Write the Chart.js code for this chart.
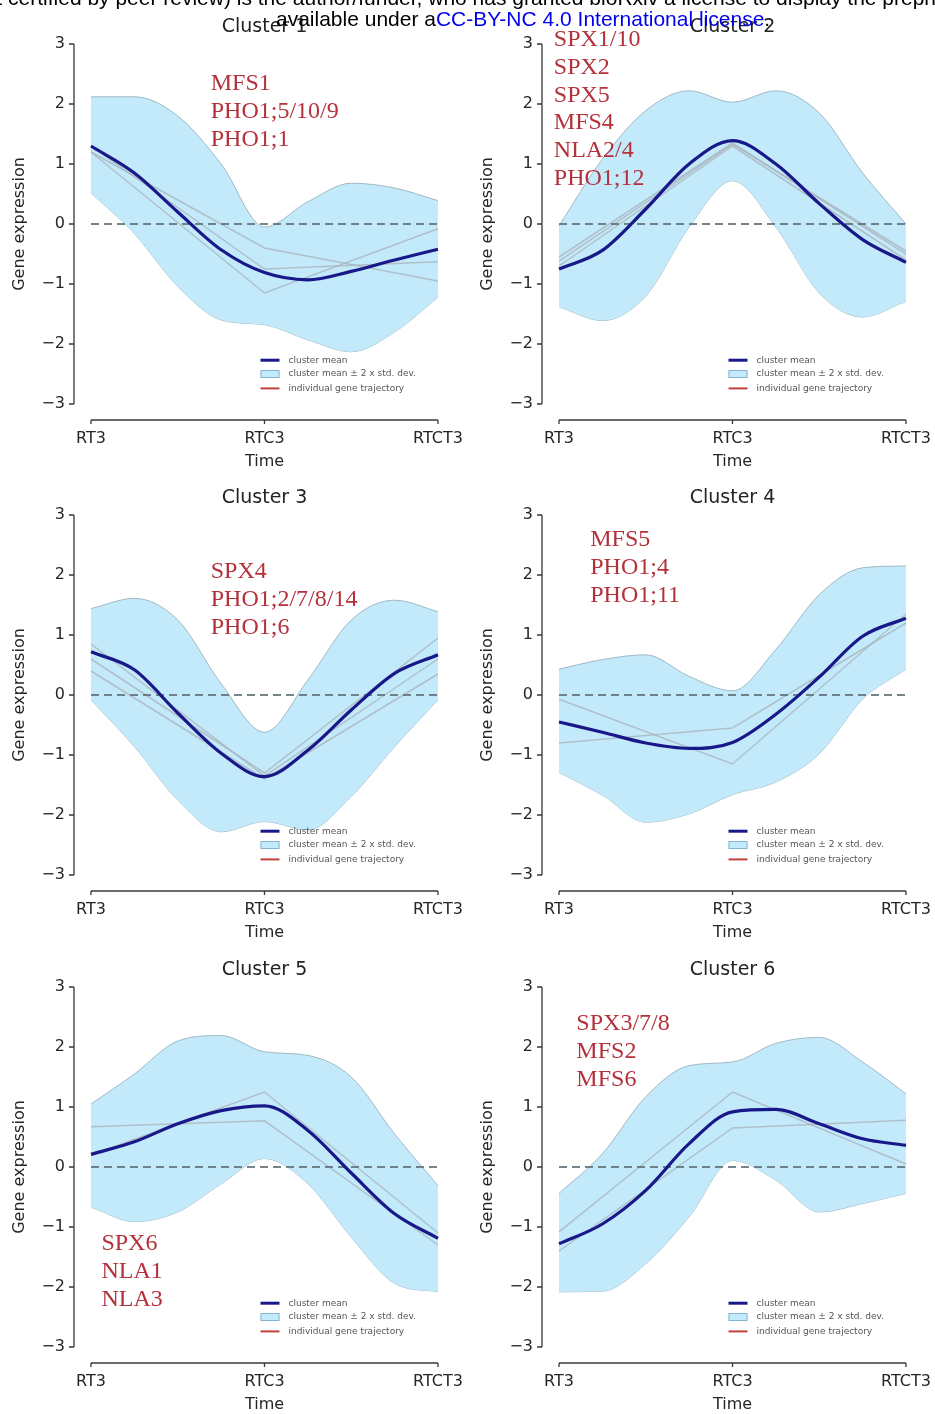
<!DOCTYPE html>
<html>
<head>
<meta charset="utf-8">
<script src="https://cdn.jsdelivr.net/npm/chart.js@4.4.0/dist/chart.umd.min.js"></script>
<style>
    body { margin: 0; background: #fff; width: 935px; height: 1414px; position: relative; overflow: hidden; }
    canvas { position: absolute; }
    .hdr { position: absolute; font-family: 'Liberation Sans', Arial, sans-serif; font-size: 21px; line-height: 21px; white-space: nowrap; z-index: 5; color: #000; }
    .hdr span { color: #0000ee; }
</style>
</head>
<body>
<canvas id="c1" width="467" height="471" style="left:0;top:0"></canvas>
<canvas id="c2" width="467" height="471" style="left:468px;top:0"></canvas>
<canvas id="c3" width="467" height="471" style="left:0;top:471px"></canvas>
<canvas id="c4" width="467" height="471" style="left:468px;top:471px"></canvas>
<canvas id="c5" width="467" height="471" style="left:0;top:943px"></canvas>
<canvas id="c6" width="467" height="471" style="left:468px;top:943px"></canvas>
<div class="hdr" style="left:-27px;top:-13px">not certified by peer review) is the author/funder, who has granted bioRxiv a license to display the preprint in perpetuity. It is made</div>
<div class="hdr" style="left:276px;top:8px">available under a<span>CC-BY-NC 4.0 International license</span>.</div>
<script>
// time points: 0 = RT3, 1 = RTC3, 2 = RTCT3
const timeLabels = ['RT3', 'RTC3', 'RTCT3'];
const timeGrid = [0, 0.25, 0.5, 0.75, 1, 1.25, 1.5, 1.75, 2];
const genePoints = [0, 1, 2];
const yTicks = [-3, -2, -1, 0, 1, 2, 3];
const legendLabels = ['cluster mean', 'cluster mean \u00b1 2 x std. dev.', 'individual gene trajectory'];

// Cluster 1
const mean1 = [1.3, 0.85, 0.2, -0.43, -0.81, -0.93, -0.79, -0.6, -0.42];
const upper1 = [2.12, 2.12, 1.8, 1.0, -0.05, 0.37, 0.68, 0.6, 0.39];
const lower1 = [0.52, -0.16, -1.04, -1.6, -1.68, -1.93, -2.13, -1.8, -1.22];
const genes1 = [[1.2, -0.4, -0.95], [1.2, -1.15, -0.08], [1.3, -0.75, -0.63]];
const notes1 = ['MFS1', 'PHO1;5/10/9', 'PHO1;1'];

// Cluster 2
const mean2 = [-0.75, -0.44, 0.25, 1.0, 1.39, 1.0, 0.34, -0.26, -0.64];
const upper2 = [-0.03, 1.08, 1.89, 2.22, 2.03, 2.22, 1.85, 0.85, 0.0];
const lower2 = [-1.38, -1.61, -1.2, -0.05, 0.72, -0.05, -1.15, -1.55, -1.29];
const genes2 = [[-0.55, 1.35, -0.5], [-0.7, 1.3, -0.6], [-0.62, 1.33, -0.45]];
const notes2 = ['SPX1/10', 'SPX2', 'SPX5', 'MFS4', 'NLA2/4', 'PHO1;12'];

// Cluster 3
const mean3 = [0.72, 0.42, -0.3, -0.97, -1.36, -0.92, -0.25, 0.36, 0.67];
const upper3 = [1.44, 1.61, 1.25, 0.19, -0.62, 0.25, 1.25, 1.58, 1.39];
const lower3 = [-0.08, -0.86, -1.75, -2.28, -2.11, -2.25, -1.69, -0.86, -0.08];
const genes3 = [[0.6, -1.3, 0.95], [0.4, -1.4, 0.35], [0.85, -1.35, 0.6]];
const notes3 = ['SPX4', 'PHO1;2/7/8/14', 'PHO1;6'];

// Cluster 4
const mean4 = [-0.45, -0.62, -0.8, -0.89, -0.79, -0.32, 0.3, 0.98, 1.28];
const upper4 = [0.43, 0.59, 0.67, 0.31, 0.07, 0.76, 1.67, 2.12, 2.15];
const lower4 = [-1.29, -1.67, -2.12, -1.98, -1.66, -1.45, -0.98, -0.07, 0.43];
const genes4 = [[-0.07, -1.15, 1.35], [-0.8, -0.55, 1.2]];
const notes4 = ['MFS5', 'PHO1;4', 'PHO1;11'];

// Cluster 5
const mean5 = [0.21, 0.42, 0.72, 0.94, 1.02, 0.61, -0.1, -0.78, -1.19];
const upper5 = [1.05, 1.55, 2.1, 2.19, 1.92, 1.86, 1.5, 0.55, -0.31];
const lower5 = [-0.67, -0.91, -0.75, -0.28, 0.14, -0.28, -1.17, -1.94, -2.08];
const genes5 = [[0.67, 0.77, -1.3], [0.2, 1.25, -1.1]];
const notes5 = ['SPX6', 'NLA1', 'NLA3'];

// Cluster 6
const mean6 = [-1.28, -0.95, -0.39, 0.39, 0.92, 0.96, 0.72, 0.47, 0.36];
const upper6 = [-0.44, 0.22, 1.17, 1.69, 1.75, 2.06, 2.16, 1.75, 1.22];
const lower6 = [-2.08, -2.07, -1.61, -0.83, 0.11, -0.22, -0.75, -0.61, -0.44];
const genes6 = [[-1.08, 1.25, 0.05], [-1.4, 0.65, 0.78]];
const notes6 = ['SPX3/7/8', 'MFS2', 'MFS6'];

const panels = [
    { id: 'c1', title: 'Cluster 1', mean: mean1, upper: upper1, lower: lower1, genes: genes1, notes: notes1, noteAt: [0.69, 2.33] },
    { id: 'c2', title: 'Cluster 2', mean: mean2, upper: upper2, lower: lower2, genes: genes2, notes: notes2, noteAt: [-0.03, 3.07] },
    { id: 'c3', title: 'Cluster 3', mean: mean3, upper: upper3, lower: lower3, genes: genes3, notes: notes3, noteAt: [0.69, 2.05] },
    { id: 'c4', title: 'Cluster 4', mean: mean4, upper: upper4, lower: lower4, genes: genes4, notes: notes4, noteAt: [0.18, 2.58] },
    { id: 'c5', title: 'Cluster 5', mean: mean5, upper: upper5, lower: lower5, genes: genes5, notes: notes5, noteAt: [0.06, -1.28] },
    { id: 'c6', title: 'Cluster 6', mean: mean6, upper: upper6, lower: lower6, genes: genes6, notes: notes6, noteAt: [0.1, 2.38] },
];

const BAND = '#c3eafa';
const BAND_EDGE = '#9fb8c4';
const MEAN = '#18188a';
const GENE = 'rgba(168,178,186,0.75)';
const NOTE = '#b3313b';

const toPoints = (xs, ys) => xs.map((x, i) => ({ x: x, y: ys[i] }));

// spines, titles, legend and gene name notes
const decorPlugin = {
    id: 'decor',
    afterDraw(chart) {
        const { ctx, chartArea } = chart;
        const x = chart.scales.x;
        const y = chart.scales.y;
        const p = chart.options.plugins.decor;
        ctx.save();

        ctx.strokeStyle = '#383838';
        ctx.lineWidth = 1.3;
        ctx.beginPath();
        ctx.moveTo(chartArea.left, y.getPixelForValue(3));
        ctx.lineTo(chartArea.left, y.getPixelForValue(-3));
        yTicks.forEach((v) => {
            const py = y.getPixelForValue(v);
            ctx.moveTo(chartArea.left - 5, py);
            ctx.lineTo(chartArea.left, py);
        });
        const sy = chartArea.bottom + 16;
        ctx.moveTo(x.getPixelForValue(0), sy);
        ctx.lineTo(x.getPixelForValue(2), sy);
        genePoints.forEach((v) => {
            const px = x.getPixelForValue(v);
            ctx.moveTo(px, sy);
            ctx.lineTo(px, sy + 4);
        });
        ctx.stroke();

        // title
        ctx.fillStyle = '#222';
        ctx.font = '19px "DejaVu Sans"';
        ctx.textAlign = 'center';
        ctx.textBaseline = 'middle';
        ctx.fillText(p.title, x.getPixelForValue(1), chartArea.top - 17);

        // legend
        const lx = x.getPixelForValue(1) - 4;
        const rows = [-2.27, -2.5, -2.74].map((v) => y.getPixelForValue(v));
        ctx.lineWidth = 3;
        ctx.strokeStyle = MEAN;
        ctx.beginPath();
        ctx.moveTo(lx, rows[0]);
        ctx.lineTo(lx + 19, rows[0]);
        ctx.stroke();
        ctx.fillStyle = BAND;
        ctx.fillRect(lx, rows[1] - 3.5, 19, 7);
        ctx.lineWidth = 1;
        ctx.strokeStyle = '#86b4d4';
        ctx.strokeRect(lx + 0.5, rows[1] - 3.5, 18, 7);
        ctx.lineWidth = 2;
        ctx.strokeStyle = '#c0403a';
        ctx.beginPath();
        ctx.moveTo(lx, rows[2]);
        ctx.lineTo(lx + 19, rows[2]);
        ctx.stroke();
        ctx.fillStyle = '#555';
        ctx.font = '9px "DejaVu Sans"';
        ctx.textAlign = 'left';
        legendLabels.forEach((t, i) => ctx.fillText(t, lx + 28, rows[i]));

        // gene names
        ctx.fillStyle = NOTE;
        ctx.font = '24px "Liberation Serif"';
        const nx = x.getPixelForValue(p.noteAt[0]);
        const ny = y.getPixelForValue(p.noteAt[1]);
        p.notes.forEach((t, i) => ctx.fillText(t, nx, ny + i * 27.8));

        ctx.restore();
    }
};

panels.forEach((panel) => {
    const datasets = [];
    datasets.push({
        data: toPoints(timeGrid, panel.mean),
        borderColor: MEAN, borderWidth: 3.2, cubicInterpolationMode: 'monotone', order: 0
    });
    datasets.push({
        data: toPoints([0, 2], [0, 0]),
        borderColor: 'rgba(95,110,116,0.85)', borderWidth: 1.8, borderDash: [8, 5], order: 1
    });
    panel.genes.forEach((g) => {
        datasets.push({
            data: toPoints(genePoints, g),
            borderColor: GENE, borderWidth: 1.5, tension: 0, order: 2
        });
    });
    const lowerIndex = datasets.length + 1;
    datasets.push({
        data: toPoints(timeGrid, panel.upper),
        borderColor: BAND_EDGE, borderWidth: 1, cubicInterpolationMode: 'monotone',
        backgroundColor: BAND, fill: lowerIndex, order: 3
    });
    datasets.push({
        data: toPoints(timeGrid, panel.lower),
        borderColor: BAND_EDGE, borderWidth: 1, cubicInterpolationMode: 'monotone', order: 4
    });

    new Chart(document.getElementById(panel.id), {
        type: 'line',
        data: { datasets: datasets },
        plugins: [decorPlugin],
        options: {
            responsive: false,
            animation: false,
            devicePixelRatio: 1,
            layout: { padding: { left: 0, right: 12, top: 44, bottom: 1 } },
            elements: { point: { radius: 0 } },
            plugins: {
                legend: { display: false },
                tooltip: { enabled: false },
                decor: { title: panel.title, notes: panel.notes, noteAt: panel.noteAt }
            },
            scales: {
                x: {
                    type: 'linear',
                    min: -0.098,
                    max: 2.098,
                    afterBuildTicks: (axis) => { axis.ticks = genePoints.map((v) => ({ value: v })); },
                    afterFit: (s) => { s.height = 66; s.paddingLeft = 0; s.paddingRight = 0; },
                    grid: { display: false, drawTicks: false },
                    border: { display: false },
                    ticks: {
                        padding: 25,
                        color: '#262626',
                        font: { family: 'DejaVu Sans', size: 16, lineHeight: 1.2 },
                        callback: (v) => timeLabels[v]
                    },
                    title: {
                        display: true, text: 'Time', color: '#262626',
                        font: { family: 'DejaVu Sans', size: 16, lineHeight: 1 },
                        padding: { top: 0, bottom: 0 }
                    }
                },
                y: {
                    min: -3,
                    max: 3,
                    afterFit: (s) => { s.width = 74; s.paddingTop = 0; s.paddingBottom = 0; },
                    grid: { display: false, drawTicks: false },
                    border: { display: false },
                    ticks: {
                        stepSize: 1,
                        padding: 9,
                        color: '#262626',
                        font: { family: 'DejaVu Sans', size: 16 },
                        callback: (v) => (v < 0 ? '\u2212' + Math.abs(v) : String(v))
                    },
                    title: {
                        display: true, text: 'Gene expression', color: '#262626',
                        font: { family: 'DejaVu Sans', size: 16, lineHeight: 1 },
                        padding: { top: 12, bottom: 0 }
                    }
                }
            }
        }
    });
});
</script>
</body>
</html>
